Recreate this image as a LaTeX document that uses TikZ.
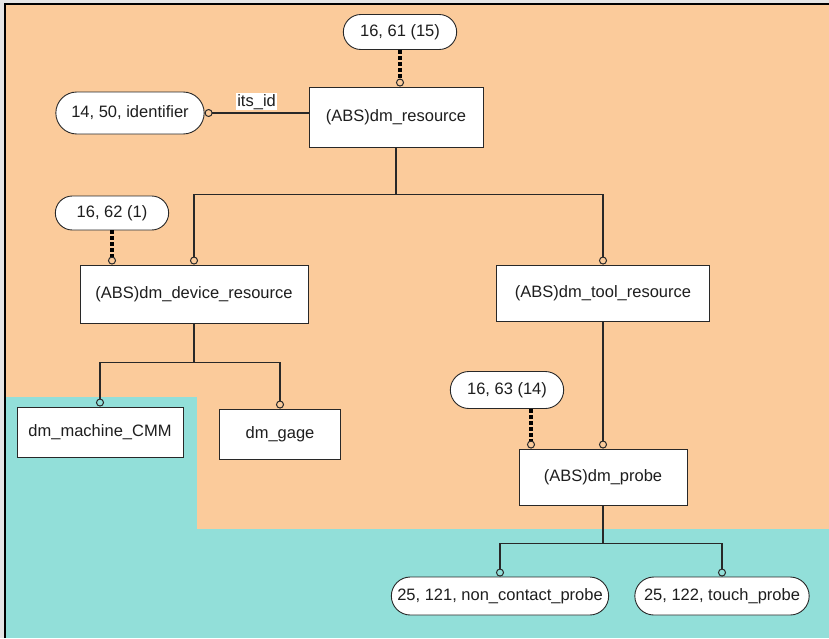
\documentclass[tikz,border=0pt]{standalone}
\usepackage{fontspec}
\setmainfont{Liberation Sans}
\usetikzlibrary{positioning,arrows.meta,shapes.misc}
\definecolor{bgOrange}{RGB}{251,203,155}
\definecolor{bgTeal}{RGB}{146,223,217}
\definecolor{erLine}{RGB}{40,40,40}
\definecolor{erText}{RGB}{30,30,30}

\begin{document}
\begin{tikzpicture}[
  x=1pt,y=-1pt,
  ent/.style={rectangle,draw=erLine,fill=white,line width=0.9pt,align=center,font=\fontsize{16.5}{19}\selectfont,text=erText},
  ref/.style={ent,rounded rectangle},
  link/.style={draw=erLine,line width=1.1pt,-{Circle[open,length=8pt,width=8pt,line width=1pt]}},
  dlink/.style={draw=black,line width=3.2pt,dash pattern=on 4pt off 2pt,shorten >=8pt},
  plain/.style={draw=erLine,line width=1.1pt}
]
  \useasboundingbox (0,0) rectangle (829,638);
  % schema page background
  \fill[gray!20] (0,0) rectangle (829,638);
  \fill[bgOrange] (5,4) rectangle (829,529);
  \fill[bgTeal] (5,529) rectangle (829,638);
  \fill[bgTeal] (5,397) rectangle (197,529);
  \draw[black,line width=2pt] (5,638) -- (5,4) -- (829,4);

  \node[ref,minimum width=120pt,minimum height=35pt] (p61) at (400,32) {16, 61 (15)};
  \node[ref,minimum width=155pt,minimum height=42pt] (ident) at (130,113) {14, 50, identifier};
  \node[ent,minimum width=174pt,minimum height=60pt] (res) at (396,117) {(ABS)dm\_resource};
  \node[ref,minimum width=120pt,minimum height=34pt] (p62) at (112,213) {16, 62 (1)};
  \node[ent,minimum width=228pt,minimum height=58pt] (dev) at (194,294) {(ABS)dm\_device\_resource};
  \node[ent,minimum width=213pt,minimum height=56pt] (tool) at (603,293) {(ABS)dm\_tool\_resource};
  \node[ent,minimum width=166pt,minimum height=50pt] (cmm) at (100,432) {dm\_machine\_CMM};
  \node[ent,minimum width=121pt,minimum height=50pt] (gage) at (280,434) {dm\_gage};
  \node[ref,minimum width=120pt,minimum height=37pt] (p63) at (507,390) {16, 63 (14)};
  \node[ent,minimum width=168pt,minimum height=56pt] (probe) at (603,477) {(ABS)dm\_probe};
  \node[ref,minimum width=224pt,minimum height=38pt] (nc) at (500,596) {25, 121,  non\_contact\_probe};
  \node[ref,minimum width=181pt,minimum height=38pt] (touch) at (722,596) {25, 122, touch\_probe};

  % attribute
  \draw[link] (res.west |- ident.east) -- node[fill=white,inner sep=1pt,above=2pt,font=\fontsize{16.5}{19}\selectfont,text=erText] (lblid) {its\_id} (ident.east);

  % references (dashed, ring at the entity)
  \coordinate (d61) at (p61.south |- res.north);
  \draw[dlink] (p61.south) -- (d61);
  \draw[link] ([yshift=8pt]d61) -- (d61);
  \coordinate (d62) at (p62.south |- dev.north);
  \draw[dlink] (p62.south) -- (d62);
  \draw[link] ([yshift=8pt]d62) -- (d62);
  \coordinate (s63) at ([xshift=24pt]p63.south);
  \coordinate (d63) at (s63 |- probe.north);
  \draw[dlink] (s63) -- (d63);
  \draw[link] ([yshift=8pt]d63) -- (d63);

  % subtype trees
  \path (res.south) ++(0,47) coordinate (j1);
  \draw[plain] (res.south) -- (j1);
  \draw[link] (j1) -| (dev.north);
  \draw[link] (j1) -| (tool.north);

  \path (dev.south) ++(0,39) coordinate (j2);
  \draw[plain] (dev.south) -- (j2);
  \draw[link] (j2) -| (cmm.north);
  \draw[link] (j2) -| (gage.north);

  \draw[link] (tool.south) -- (tool.south |- probe.north);

  \path (probe.south) ++(0,38) coordinate (j3);
  \draw[plain] (probe.south) -- (j3);
  \draw[link] (j3) -| (nc.north);
  \draw[link] (j3) -| (touch.north);
\end{tikzpicture}
\end{document}
